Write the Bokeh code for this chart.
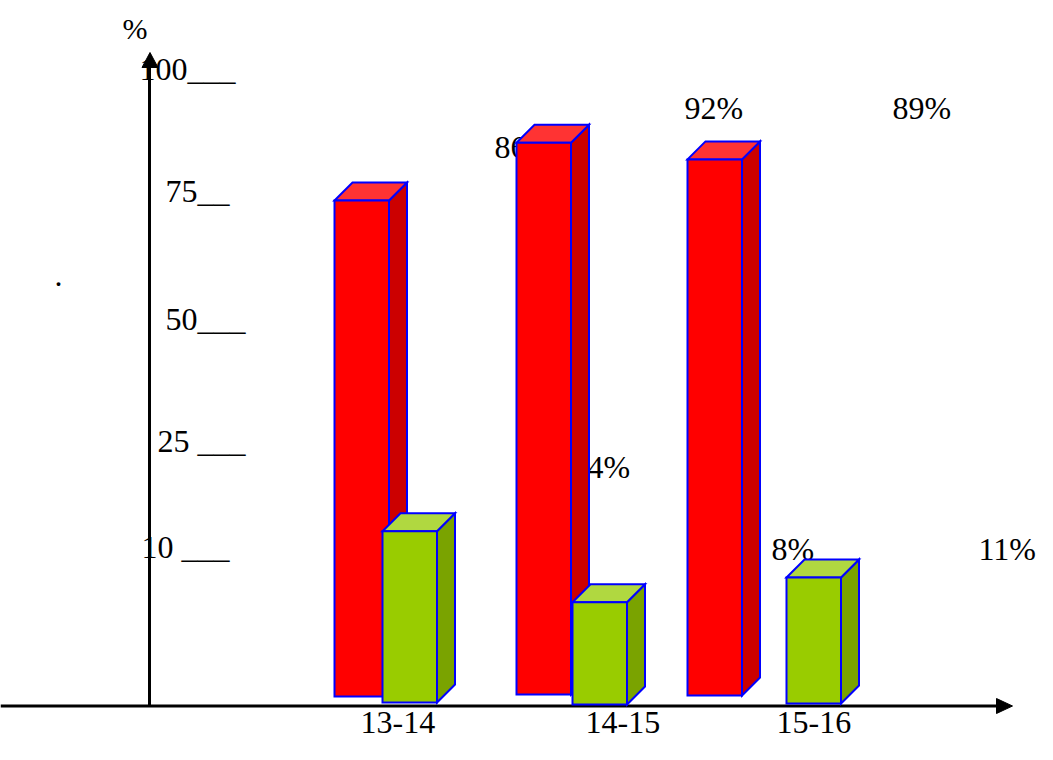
from bokeh.plotting import figure
from bokeh.models import Range1d, ColumnDataSource
from bokeh.core.properties import value
from bokeh.embed import file_html
from bokeh.resources import INLINE

# ---------------- data ----------------
categories = ["13-14", "14-15", "15-16"]
red_values = [79.1, 88.0, 85.5]      # bar heights read against the 0-100 axis
green_values = [27.3, 16.3, 20.1]
red_labels = ["86%", "92%", "89%"]
green_labels = ["14%", "8%", "11%"]
tick_labels = ["100___", "75__", "50___", "25 ___", "10 ___"]

# ---------------- layout (pixels) ----------------
PX = 6.27          # pixels per unit
AXIS_PY = 705.5    # pixel row of the value 0
TXT_SHIFT = 12     # renderer places the baseline this much lower


def Y(py):
    return (AXIS_PY - py) / PX


def TY(py):
    return Y(py - TXT_SHIFT)


W = 54.5
D = 18.0
red_left = [334, 516, 687]
red_base_py = [696, 694, 695]
green_left = [382, 572, 786]
green_base_py = [702, 704, 703]

FONT = value("Liberation Serif")

p = figure(width=1037, height=744, output_backend="svg", toolbar_location=None,
           x_range=Range1d(0, 1037), y_range=Range1d(Y(744), Y(0)),
           x_axis_type=None, y_axis_type=None, min_border=0)
p.outline_line_color = None
p.grid.visible = False
p.background_fill_color = "white"

# ---------------- texts ----------------
tick_x = [139, 165, 165, 157, 141]
tick_py = [80, 202, 330, 452, 558]
p.text(x=tick_x, y=[TY(v) for v in tick_py], text=tick_labels,
       text_font=FONT, text_font_size="32px", text_color="black",
       text_baseline="alphabetic", text_align="left")

p.text(x=[122], y=[TY(40)], text=["%"], text_font=FONT, text_font_size="30px",
       text_color="black", text_baseline="alphabetic")
p.text(x=[54], y=[TY(287)], text=["."], text_font=FONT, text_font_size="32px",
       text_color="black", text_baseline="alphabetic")

red_lab_x = [494, 684, 892]
red_lab_py = [158, 119, 119]
p.text(x=red_lab_x, y=[TY(v) for v in red_lab_py], text=red_labels,
       text_font=FONT, text_font_size="32px", text_color="black",
       text_baseline="alphabetic")

green_lab_x = [571, 771, 978]
green_lab_py = [478, 560, 560]
p.text(x=green_lab_x, y=[TY(v) for v in green_lab_py], text=green_labels,
       text_font=FONT, text_font_size="32px", text_color="black",
       text_baseline="alphabetic")

cat_x = [360, 585, 776]
p.text(x=cat_x, y=[TY(734)] * 3, text=categories,
       text_font=FONT, text_font_size="32px", text_color="black",
       text_baseline="alphabetic")

# ---------------- axes ----------------
p.line(x=[149, 149], y=[Y(705), Y(62)], line_color="black", line_width=3)
p.patch(x=[141.5, 157.5, 149.5], y=[Y(67), Y(67), Y(52)], fill_color="black",
        line_color="black", line_width=1)
p.line(x=[0, 1000], y=[0, 0], line_color="black", line_width=3)
p.patch(x=[996, 996, 1012], y=[Y(698), Y(713), Y(705.5)], fill_color="black",
        line_color="black", line_width=1)


# ---------------- 3D bars ----------------
def bars(lefts, base_py, vals, front, top_c, side_c):
    d = D / PX
    bases = [Y(b) for b in base_py]
    tops = [b + v for b, v in zip(bases, vals)]
    rights = [l + W for l in lefts]
    src = ColumnDataSource(dict(left=lefts, right=rights, bottom=bases, top=tops))
    topx, topy, sidex, sidey = [], [], [], []
    for l, r, b, t in zip(lefts, rights, bases, tops):
        topx.append([l, l + D, r + D, r])
        topy.append([t, t + d, t + d, t])
        sidex.append([r, r + D, r + D, r])
        sidey.append([t, t + d, b + d, b])
    p.patches(xs=sidex, ys=sidey, fill_color=side_c, line_color="#0000FF",
              line_width=2, line_join="miter")
    p.patches(xs=topx, ys=topy, fill_color=top_c, line_color="#0000FF",
              line_width=2, line_join="miter")
    p.quad(left="left", right="right", bottom="bottom", top="top", source=src,
           fill_color=front, line_color="#0000FF", line_width=2, line_join="miter")


bars(red_left, red_base_py, red_values, "#FF0000", "#FF3333", "#CC0000")
bars(green_left, green_base_py, green_values, "#99CC00", "#B0D840", "#7AA300")

open("out.html", "w").write(file_html(p, INLINE))
